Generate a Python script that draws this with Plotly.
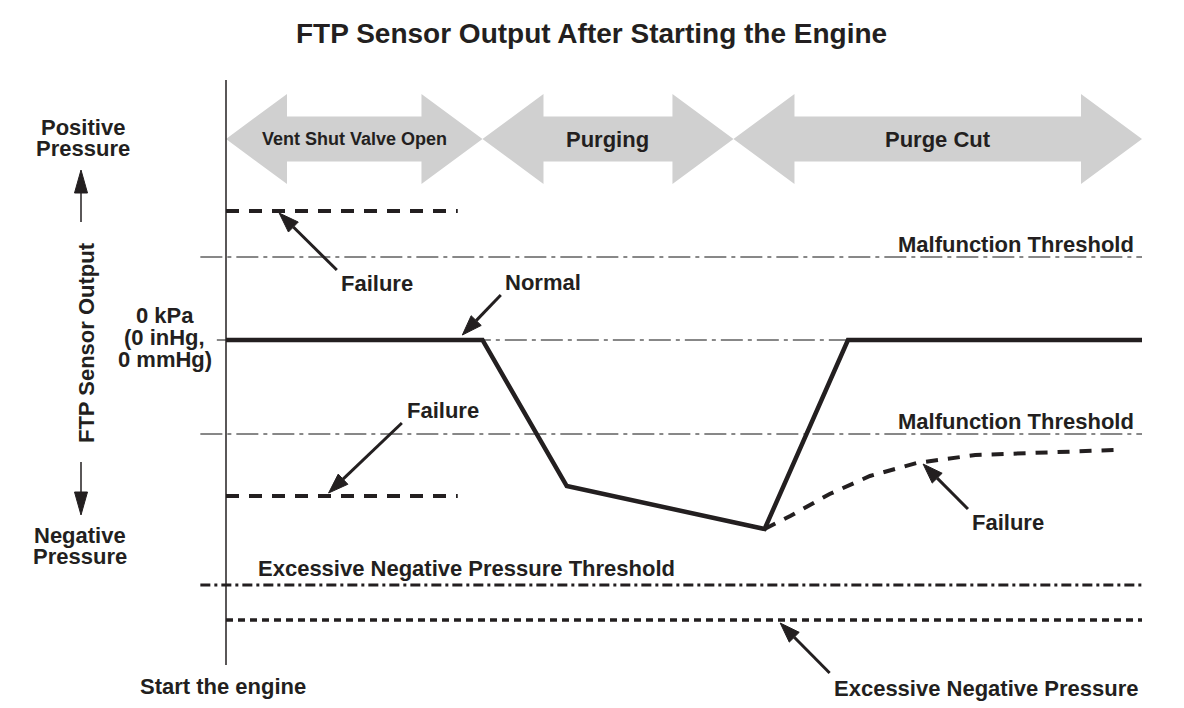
import plotly.graph_objects as go

# ---------------- data (time units 0..100, pressure units) ----------------
phase_names = ["Vent Shut Valve Open", "Purging", "Purge Cut"]
phase_bounds = [0, 28.0, 55.4, 100]

normal_t = [0, 28.0, 37.2, 58.8, 67.9, 100]
normal_p = [0, 0, -14.6, -18.9, 0, 0]

fail_hi_t = [0, 25.3]
fail_hi_p = [12.9, 12.9]
fail_lo_t = [0, 25.3]
fail_lo_p = [-15.6, -15.6]

fail_cut_t = [58.8, 61.6, 65.9, 70.3, 75.4, 81.8, 97.1]
fail_cut_p = [-18.9, -17.6, -15.4, -13.6, -12.3, -11.5, -11.0]

malf_hi = 8.3
malf_lo = -9.4
exc_threshold = -24.5
exc_pressure = -28.0

# callout arrows: (tail, tip)
callouts = [
    ((12.1, 7.0), (5.8, 12.7)),
    ((30.0, 4.5), (25.8, 0.5)),
    ((19.2, -8.3), (11.2, -15.3)),
    ((81.0, -16.9), (76.1, -12.4)),
    ((65.9, -33.3), (60.5, -28.3)),
]

# ---------------- layout constants ----------------
W, H = 1184, 708
X0_PX, Y0_PX = 226, 340
PX_T, PX_P = 9.16, 10.0
XR = [-X0_PX / PX_T, (W - X0_PX) / PX_T]
YR = [(Y0_PX - H) / PX_P, Y0_PX / PX_P]

INK = "#231f20"
GREY = "#d0d0d0"
FONT = "Liberation Sans, Arial, sans-serif"

fig = go.Figure()


def add_line(x, y, width, dash="solid", color=INK):
    fig.add_trace(go.Scatter(x=x, y=y, mode="lines",
                             line=dict(color=color, width=width, dash=dash),
                             hoverinfo="skip", showlegend=False))


def add_arrow(tail, tip, lw, head_len, head_half, color=INK):
    # work in pixel space so heads are not distorted
    tx, ty = tail[0] * PX_T, tail[1] * PX_P
    px, py = tip[0] * PX_T, tip[1] * PX_P
    dx, dy = px - tx, py - ty
    L = (dx * dx + dy * dy) ** 0.5
    ux, uy = dx / L, dy / L
    bx, by = px - ux * head_len, py - uy * head_len
    nx, ny = -uy, ux
    add_line([tail[0], bx / PX_T], [tail[1], by / PX_P], lw, color=color)
    xs = [px, bx + nx * head_half, bx - nx * head_half, px]
    ys = [py, by + ny * head_half, by - ny * head_half, py]
    fig.add_trace(go.Scatter(x=[v / PX_T for v in xs], y=[v / PX_P for v in ys],
                             mode="lines", fill="toself", fillcolor=color,
                             line=dict(color=color, width=1),
                             hoverinfo="skip", showlegend=False))


# phase double arrows
C = 20.1
HEAD = 6.66
SH, HH = 2.25, 4.5
for a, b in zip(phase_bounds[:-1], phase_bounds[1:]):
    xs = [a, a + HEAD, a + HEAD, b - HEAD, b - HEAD, b, b - HEAD, b - HEAD, a + HEAD, a + HEAD, a]
    ys = [C, C + HH, C + SH, C + SH, C + HH, C, C - HH, C - SH, C - SH, C - HH, C]
    fig.add_trace(go.Scatter(x=xs, y=ys, mode="lines", fill="toself", fillcolor=GREY,
                             line=dict(color=GREY, width=0), hoverinfo="skip",
                             showlegend=False))

# thresholds
add_line([-2.8, 100], [malf_hi, malf_hi], 1, "22px,5px,4px,5px", "#111111")
add_line([-1.0, 100], [0, 0], 1, "22px,5px,4px,5px", "#111111")
add_line([-2.8, 100], [malf_lo, malf_lo], 1, "22px,5px,4px,5px", "#111111")
add_line([-2.8, 100], [exc_threshold, exc_threshold], 3, "10px,4px,3px,4px")
add_line([0, 100], [exc_pressure, exc_pressure], 3.5, "7px,5px")

# vertical axis
add_line([0, 0], [26.0, -32.5], 1.5)

# failure traces
add_line(fail_hi_t, fail_hi_p, 4, "13px,10px")
add_line(fail_lo_t, fail_lo_p, 4, "13px,10px")
add_line(fail_cut_t, fail_cut_p, 4, "12px,10px")

# normal
add_line(normal_t, normal_p, 4.5)

# callouts
for tail, tip in callouts:
    add_arrow(tail, tip, 3, 20, 7)

# side arrows
add_arrow((-15.83, 11.8), (-15.83, 17.0), 1.5, 23, 6.5)
add_arrow((-15.83, -12.2), (-15.83, -17.5), 1.5, 23, 6.5)

# ---------------- text ----------------
labels = [
    ("FTP Sensor Output After Starting the Engine", 39.85, 30.7, "center", 28),
    ("Positive", -15.61, 21.3, "center", 22),
    ("Pressure", -15.61, 19.2, "center", 22),
    ("Negative", -15.94, -19.5, "center", 22),
    ("Pressure", -15.94, -21.6, "center", 22),
    ("0 kPa", -6.66, 2.5, "center", 22),
    ("(0 inHg,", -6.66, 0.3, "center", 22),
    ("0 mmHg)", -6.66, -1.9, "center", 22),
    ("Start the engine", -0.33, -34.6, "center", 22),
    ("Malfunction Threshold", 99.3, 9.6, "right", 22),
    ("Malfunction Threshold", 99.3, -8.1, "right", 22),
    ("Excessive Negative Pressure Threshold", 26.3, -22.8, "center", 22),
    ("Excessive Negative Pressure", 83.0, -34.8, "center", 22),
    ("Failure", 16.5, 5.7, "center", 22),
    ("Normal", 34.6, 5.8, "center", 22),
    ("Failure", 23.7, -7.0, "center", 22),
    ("Failure", 85.4, -18.2, "center", 22),
]
for text, x, y, anc, size in labels:
    fig.add_annotation(x=x, y=y, text=text, showarrow=False, xanchor=anc, yanchor="middle",
                       font=dict(family=FONT, size=size, color=INK, weight="bold"))

fig.add_annotation(x=-15.28, y=-0.3, text="FTP Sensor Output", showarrow=False, textangle=-90,
                   font=dict(family=FONT, size=22, color=INK, weight="bold"))

phase_sizes = [18, 22, 22]
for i, name in enumerate(phase_names):
    cx = (phase_bounds[i] + phase_bounds[i + 1]) / 2
    fig.add_annotation(x=cx, y=C, text=name, showarrow=False,
                       font=dict(family=FONT, size=phase_sizes[i], color=INK, weight="bold"))

fig.update_layout(
    width=W, height=H, margin=dict(l=0, r=0, t=0, b=0),
    paper_bgcolor="white", plot_bgcolor="white", showlegend=False,
    xaxis=dict(range=XR, visible=False, fixedrange=True),
    yaxis=dict(range=YR, visible=False, fixedrange=True),
)

fig.write_html("out.html", config={"displayModeBar": False},
               post_script="document.body.style.margin='0';")
